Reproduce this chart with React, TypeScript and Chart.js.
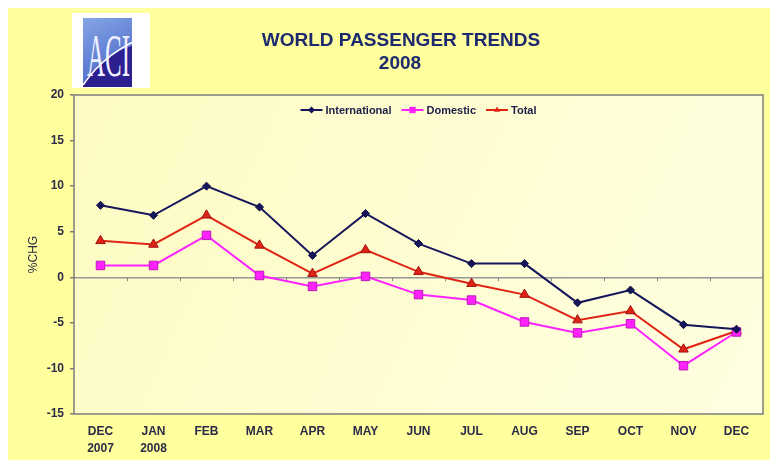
import React, { useEffect, useRef } from 'react';
import { Chart, registerables } from 'chart.js';

Chart.register(...registerables);

const categories: (string | string[])[] = [
  ['DEC', '2007'], ['JAN', '2008'], 'FEB', 'MAR', 'APR', 'MAY', 'JUN', 'JUL', 'AUG', 'SEP', 'OCT', 'NOV', 'DEC',
];
const international = [7.9, 6.8, 10.0, 7.7, 2.4, 7.0, 3.7, 1.5, 1.5, -2.8, -1.4, -5.2, -5.7];
const domestic = [1.3, 1.3, 4.6, 0.2, -1.0, 0.1, -1.9, -2.5, -4.9, -6.1, -5.1, -9.7, -6.0];
const total = [4.0, 3.6, 6.8, 3.5, 0.4, 3.0, 0.6, -0.7, -1.9, -4.7, -3.7, -7.9, -5.9];
const yMin = -15;
const yMax = 20;
const yStep = 5;
const titleLines = ['WORLD PASSENGER TRENDS', '2008'];
const yAxisTitle = '%CHG';

const W = 762;
const H = 452;
const TEXT = '#2b2b48';

function marker(ctx: CanvasRenderingContext2D, style: string, x: number, y: number, r: number) {
  ctx.beginPath();
  if (style === 'rectRot') {
    ctx.moveTo(x, y - r); ctx.lineTo(x + r, y); ctx.lineTo(x, y + r); ctx.lineTo(x - r, y);
  } else if (style === 'rect') {
    const s = r * Math.SQRT1_2;
    ctx.rect(x - s, y - s, 2 * s, 2 * s);
  } else {
    ctx.moveTo(x, y - r); ctx.lineTo(x + r * 0.866, y + r * 0.5); ctx.lineTo(x - r * 0.866, y + r * 0.5);
  }
  ctx.closePath();
  ctx.fill();
}

const decor = {
  id: 'decor',
  beforeDraw(chart: any) {
    const { ctx, chartArea: a } = chart;
    ctx.save();
    const g = ctx.createLinearGradient(a.left, a.top, a.right, a.bottom);
    g.addColorStop(0, '#FDFBC2');
    g.addColorStop(1, '#FFFFE2');
    ctx.fillStyle = g;
    ctx.fillRect(a.left, a.top, a.right - a.left, a.bottom - a.top);
    ctx.restore();
  },
  beforeDatasetsDraw(chart: any) {
    const { ctx } = chart;
    const xs = chart.scales.x;
    const ys = chart.scales.y;
    const y0 = ys.getPixelForValue(0);
    ctx.save();
    ctx.strokeStyle = '#8a8a8a';
    ctx.lineWidth = 1;
    for (let i = 1; i < categories.length; i++) {
      const px = Math.round((xs.getPixelForValue(i - 1) + xs.getPixelForValue(i)) / 2) + 0.5;
      ctx.beginPath();
      ctx.moveTo(px, y0);
      ctx.lineTo(px, y0 + 4);
      ctx.stroke();
    }
    ctx.restore();
  },
  afterDraw(chart: any) {
    const { ctx, chartArea: a } = chart;
    ctx.save();
    // plot border
    ctx.strokeStyle = '#7d7d7d';
    ctx.lineWidth = 1.5;
    ctx.strokeRect(a.left, a.top, a.right - a.left, a.bottom - a.top);
    // title
    ctx.fillStyle = '#1d2a6e';
    ctx.textAlign = 'center';
    ctx.textBaseline = 'middle';
    ctx.font = 'bold 19px Arial, "Liberation Sans", sans-serif';
    ctx.fillText(titleLines[0], 393, 33);
    ctx.fillText(titleLines[1], 392, 56);
    // legend
    ctx.font = 'bold 11px Arial, "Liberation Sans", sans-serif';
    const ds = chart.data.datasets;
    const lineW = 22, gapA = 3, gapB = 10;
    const widths = ds.map((d: any) => lineW + gapA + ctx.measureText(d.label).width);
    const tot = widths.reduce((s: number, v: number) => s + v, 0) + gapB * (ds.length - 1);
    let x = (a.left + a.right) / 2 - tot / 2;
    const y = a.top + 15;
    ds.forEach((d: any, i: number) => {
      ctx.strokeStyle = d.borderColor;
      ctx.lineWidth = 2;
      ctx.beginPath();
      ctx.moveTo(x, y);
      ctx.lineTo(x + lineW, y);
      ctx.stroke();
      ctx.fillStyle = d.borderColor;
      marker(ctx, d.pointStyle, x + lineW / 2, y, d.pointStyle === 'rect' ? 4.5 : 3.6);
      ctx.fillStyle = '#1c1c4a';
      ctx.textAlign = 'left';
      ctx.fillText(d.label, x + lineW + gapA, y + 0.5);
      x += widths[i] + gapB;
    });
    ctx.restore();
  },
};

export default function App() {
  const ref = useRef<HTMLCanvasElement>(null);

  useEffect(() => {
    if (!ref.current) return;
    const chart = new Chart(ref.current, {
      type: 'line',
      data: {
        labels: categories as any,
        datasets: [
          {
            label: 'International',
            data: international,
            borderColor: '#15155c',
            backgroundColor: '#15155c',
            pointBackgroundColor: '#15155c',
            pointBorderColor: '#0c0c40',
            pointStyle: 'rectRot',
            pointRadius: 4,
            borderWidth: 2,
            pointBorderWidth: 1,
          },
          {
            label: 'Domestic',
            data: domestic,
            borderColor: '#ff22ff',
            backgroundColor: '#ff22ff',
            pointBackgroundColor: '#ff22ff',
            pointBorderColor: '#b818b8',
            pointStyle: 'rect',
            pointRadius: 6,
            borderWidth: 2,
            pointBorderWidth: 1,
          },
          {
            label: 'Total',
            data: total,
            borderColor: '#e02414',
            backgroundColor: '#e02414',
            pointBackgroundColor: '#e02414',
            pointBorderColor: '#a01010',
            pointStyle: 'triangle',
            pointRadius: 5.5,
            borderWidth: 2,
            pointBorderWidth: 1,
          },
        ],
      },
      options: {
        responsive: false,
        animation: false,
        devicePixelRatio: 1,
        layout: { padding: { top: 87, left: 0, right: 6, bottom: 0 } },
        plugins: { legend: { display: false }, title: { display: false }, tooltip: { enabled: false } },
        elements: { line: { tension: 0 } },
        scales: {
          x: {
            type: 'category',
            offset: true,
            grid: { display: false, drawTicks: false },
            border: { display: false },
            ticks: {
              autoSkip: false,
              maxRotation: 0,
              padding: 10,
              color: TEXT,
              font: { family: 'Arial, "Liberation Sans", sans-serif', size: 12, weight: 'bold', lineHeight: 1.35 },
            },
            afterFit: (s: any) => { s.height = 46; },
          },
          y: {
            min: yMin,
            max: yMax,
            ticks: {
              stepSize: yStep,
              padding: 6,
              color: TEXT,
              font: { family: 'Arial, "Liberation Sans", sans-serif', size: 12, weight: 'bold' },
            },
            grid: {
              color: (c: any) => (c.tick && c.tick.value === 0 ? '#969696' : 'rgba(0,0,0,0)'),
              lineWidth: 1.5,
              tickColor: '#7d7d7d',
              tickLength: 4,
              drawTicks: true,
            },
            border: { display: false },
            title: {
              display: true,
              text: yAxisTitle,
              color: TEXT,
              padding: { top: 18, bottom: 0 },
              font: { family: 'Arial, "Liberation Sans", sans-serif', size: 12, weight: 'normal' },
            },
            afterFit: (s: any) => { s.width = 66; },
          },
        },
      },
      plugins: [decor],
    });
    return () => chart.destroy();
  }, []);

  return (
    <div style={{ position: 'absolute', left: 8, top: 8, width: W, height: H, background: '#FFFF9E', overflow: 'hidden' }}>
      <canvas ref={ref} width={W} height={H} style={{ position: 'absolute', left: 0, top: 0, width: W, height: H }} />
      <svg width={78} height={75} style={{ position: 'absolute', left: 64, top: 5 }}>
        <defs>
          <linearGradient id="aciSky" x1="0" y1="0" x2="0.4" y2="1">
            <stop offset="0" stopColor="#86a6e6" />
            <stop offset="1" stopColor="#4a68c8" />
          </linearGradient>
        </defs>
        <rect x={0} y={0} width={78} height={75} fill="#ffffff" />
        <rect x={11} y={5} width={49} height={69} fill="url(#aciSky)" />
        <path d="M 11 70 Q 30 42 60 33 L 60 74 L 11 74 Z" fill="#2c1f90" />
        <text
          x={15}
          y={63}
          fontFamily='"Liberation Serif", "DejaVu Serif", serif'
          fontSize={62}
          textLength={43}
          lengthAdjust="spacingAndGlyphs"
          fill="#eef0ff"
        >
          ACI
        </text>
        <path d="M 11 72 Q 34 38 77 22" stroke="#ffffff" strokeWidth={1.6} fill="none" />
      </svg>
    </div>
  );
}
